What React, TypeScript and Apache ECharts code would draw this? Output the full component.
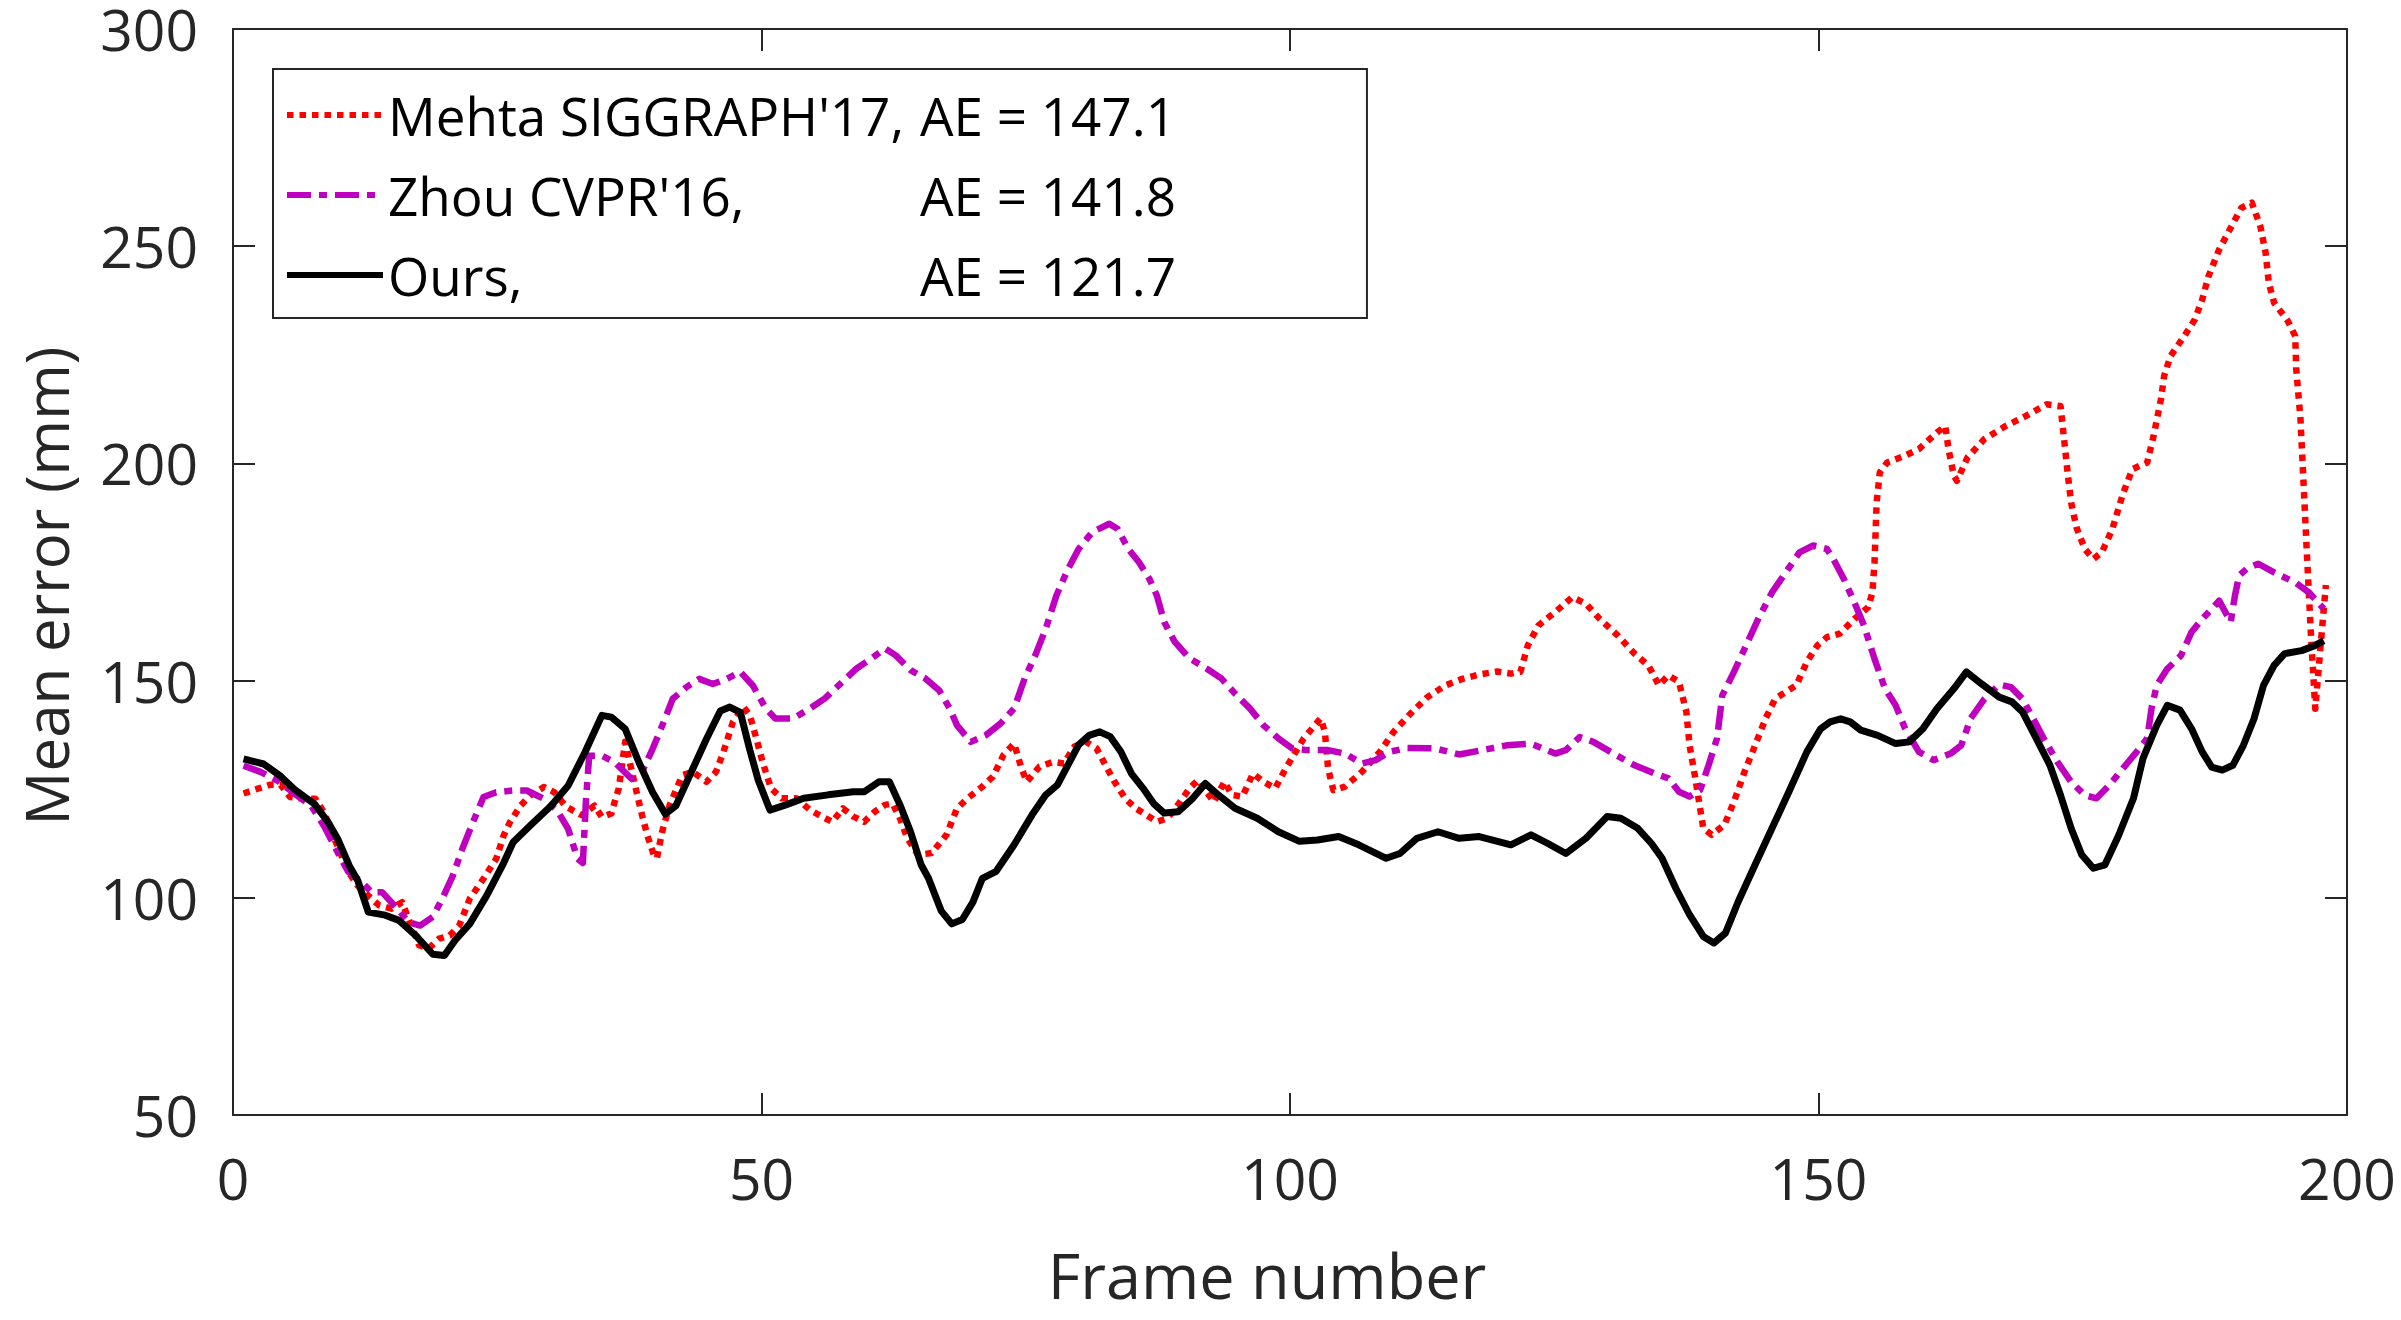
import React, { useEffect, useRef } from "react";
import * as echarts from "echarts";

const FONT = "'Open Sans', 'Noto Sans', sans-serif";
const AXIS_COLOR = "#262626";

const seriesNames = ["Mehta SIGGRAPH'17,", "Zhou CVPR'16,", "Ours,"];
const aeValues = ["147.1", "141.8", "121.7"];
const seriesColors = ["#ff0000", "#bf00bf", "#000000"];

const xTicks = { min: 0, max: 200, interval: 50 };
const yTicks = { min: 50, max: 300, interval: 50 };

const mehtaData = [
  [1,124],[2.2,125],[3.5,126],[4.5,126],[5.4,123.2],[6.7,122.8],[7.8,122.8],[8.6,119.7],[9.6,113.6],[10.9,106],
  [11.8,102.8],[12.8,100.5],[13.8,98.3],[15,97.5],[16,99],[16.6,95.2],[17.6,89.1],[18.5,88.3],[19.5,90.6],[20.5,91.3],
  [21.4,93.6],[22.4,99.8],[23.7,104.4],[24.9,109],[25.6,114.3],[26.2,117.4],[27.2,121.2],[28.1,123.5],[29.4,125.5],[30.4,124.3],
  [31.5,121],[33,119],[34.2,121.2],[34.9,118.6],[35.8,119.4],[36.1,122],[36.5,125.2],[37.1,135.9],[38.1,125.2],[38.7,119],
  [39.2,114.4],[39.8,109.9],[40.1,109.1],[40.6,115.2],[41.3,121.3],[42.5,128.2],[43.5,129],[44.8,126.7],[45.7,129],[46.4,133.6],
  [47.3,140.5],[48.3,143.9],[48.9,142],[49.6,135.9],[50.1,131.3],[50.9,125.2],[51.9,122.9],[53.3,122.9],[54.6,120.2],[55.7,118.7],
  [56.7,117.5],[57.7,120.6],[58.7,118.7],[59.7,117.5],[60.7,119.8],[61.7,121.4],[62.4,121.7],[63.1,118.3],[63.8,113.7],[64.8,109.9],
  [66.1,110.3],[67.5,114.5],[68.5,120.6],[69.5,122.9],[70.9,125.6],[71.9,127.9],[72.9,132.9],[73.9,135.5],[74.6,129.8],[75.1,126.7],
  [76.3,130.2],[77.6,131.3],[78.6,130.9],[79.6,134.8],[80.7,135.9],[81.7,134.4],[82.7,129.8],[83.4,126.7],[84.4,122.9],[85.4,120.6],
  [86.4,119.1],[87.4,117.5],[88.4,118.3],[89.4,121.4],[90.5,125.2],[91.3,127.1],[92.1,124.4],[92.8,122.1],[93.8,126.7],[94.5,123.7],
  [95.5,123.3],[96.5,128.6],[97.5,126.7],[98.6,125.2],[99.6,129.8],[101.3,136.7],[102.9,141.3],[103.3,138.2],[103.6,129.8],[104.1,124.8],
  [105.2,125.6],[106.8,129],[108.5,133.6],[109.8,138.2],[111.4,142.4],[113,146.2],[114.7,148.9],[116.3,150.4],[117.9,151.4],[119.6,152.1],
  [120.9,151.6],[121.8,152],[122.5,158.1],[123.5,162.7],[125.1,165.8],[126.7,169.2],[128,167.7],[129.3,164.2],[131,160.4],[132.6,156.2],
  [133.9,153.5],[134.9,148.9],[135.8,151.2],[136.8,149.7],[137.5,142.8],[137.8,135.1],[138.3,128.2],[138.8,120.6],[139.1,116],[139.9,114.5],
  [141.1,116.8],[142,122.1],[143,129],[144,135.1],[145,141.3],[145.9,145.8],[146.9,147.4],[147.9,148.9],[148.9,154.3],[149.9,158.1],
  [150.8,160],[152,160.8],[153.4,164.2],[154.7,166.9],[155.1,170.3],[155.3,177.2],[155.5,191],[155.8,197.9],[156.5,200.2],[158.2,201.8],
  [159.5,203.3],[161.2,207.1],[162,208.6],[162.3,203.3],[162.8,197.2],[163.1,196],[164.1,201.4],[165.7,205.6],[167.7,208.6],[169.6,210.9],
  [171.6,213.6],[172.9,213.2],[173.2,206.3],[173.6,197.2],[173.9,191],[174.4,185.3],[175.2,180.3],[176,178],[176.8,179.5],[177.8,184.9],
  [178.8,193],[179.7,198.7],[181.1,200.2],[181.7,206.3],[182.4,214.8],[182.7,220.1],[183.3,224.7],[184.6,229.3],[185.6,233.1],[186.3,237.7],
  [186.9,243.1],[187.9,249.2],[188.9,253.8],[190,258.8],[191,260],[191.8,254.6],[192.3,248.5],[192.6,241.6],[193.1,237],[194.4,232.8],
  [195.1,229.3],[195.2,221.7],[195.6,210.2],[195.9,194.9],[196.2,179.5],[196.6,160],[197,143.5],[197.5,158],[198,172],
];

const zhouData = [
  [1,130.4],[2.6,129],[4.2,127],[5.8,124],[7.4,121.2],[8.6,116.6],[9.9,110.5],[10.9,106],[12.2,103.6],[13.1,101.3],
  [14.1,101.3],[15.4,97.9],[16.6,94.4],[17.7,93.6],[18.9,95.6],[19.8,99.8],[20.8,105.1],[21.7,111.3],[22.7,117.4],[23.7,123.2],
  [24.9,124.3],[26.5,124.7],[27.8,124.7],[29.4,122.8],[30.7,120],[31.7,115.9],[32.6,109],[33.1,108],[33.4,122.8],[33.7,132.7],
  [34.9,132.7],[36.1,131.2],[37.7,127.4],[38.7,129],[39.7,134.3],[40.6,139.6],[41.6,145.8],[42.9,148.5],[44.1,150.4],[45.4,149.2],
  [46.7,150.4],[48,152],[49.2,148.8],[50.4,143.6],[51.3,141.3],[53,141.3],[54.6,143.6],[56,145.9],[57.3,148.9],[59,152.8],
  [60.4,155.1],[61.7,157.4],[62.7,155.8],[64.1,152.4],[65.5,150.5],[66.8,147.8],[67.8,143.6],[68.5,139.7],[69.8,135.9],[71.2,137.4],
  [72.6,140.1],[73.9,143.6],[74.9,150.5],[75.9,155.8],[76.9,162],[77.9,169.6],[79,175.7],[80,180.3],[81.3,184.2],[82.9,186.1],
  [83.7,184.9],[84.7,180.3],[85.7,177.3],[86.7,173.4],[87.4,169.6],[88.1,163.5],[89.1,158.9],[90.5,155.1],[92.1,152.8],[93.5,150.5],
  [94.8,147],[96.2,143.6],[97.5,139.7],[98.9,136.7],[100.2,134.4],[101.6,134],[103.6,134],[105.2,133.2],[106.8,130.9],[108.1,131.7],
  [109.4,133.6],[111.1,134.5],[113.7,134.4],[116,133],[118.2,134],[120.5,135.1],[122.8,135.5],[125.1,133.2],[126.1,134],[127.4,137],
  [128.7,135.9],[130.6,133.2],[132.6,130.5],[134.5,128.6],[135.8,127.5],[136.8,124.4],[137.8,123.3],[138.8,124.8],[139.6,130.5],[140.4,136.7],
  [140.9,146.6],[142,152],[143,157.3],[144.3,164.2],[145.6,170.3],[146.9,174.9],[148.2,179.5],[149.5,181.1],[150.8,180.3],[151.4,178],
  [152.4,173.4],[153.4,168],[154.3,162.7],[155.3,155],[156.3,148.1],[157.3,144.3],[158.2,138.9],[159.5,133.6],[160.9,131.7],[162.5,133.2],
  [163.5,135.1],[164.4,141.3],[165.7,145.8],[167.1,149.1],[168.2,148.5],[169.3,145.8],[170.3,141.3],[171.3,136.7],[172.6,131.3],[173.9,126.7],
  [175.2,123.6],[176.3,122.9],[177.5,125.9],[178.8,129.8],[180.1,133.6],[181.1,136.7],[181.5,143.5],[182,148.9],[183,152.7],[184.3,155.8],
  [185.3,161.2],[186.3,164.2],[187.2,166.5],[187.9,168.4],[188.5,165.7],[189,163.5],[189.4,169.6],[189.8,174.2],[190.5,175.7],[191.6,176.9],
  [193.1,174.9],[195.1,172.6],[196.4,170.3],[197.8,166.5],
];

const oursData = [
  [1,132],[2.9,130.8],[4.5,128],[5.8,125],[7.7,121.6],[9,117.4],[9.9,113.6],[11,107.4],[11.8,104],[12.8,96.7],
  [14.4,96],[15.7,94.8],[17.3,91.3],[18.9,87],[20,86.7],[21.1,90.5],[22.4,94],[24,100.5],[25.6,108],[26.5,112.8],
  [28.1,116.6],[30.1,121.2],[31.7,125.8],[33.3,133.5],[34.9,142],[35.8,141.6],[37.1,138.9],[38.4,131.2],[39.7,124.3],[40.9,119.3],
  [41.9,121.2],[43.5,129.7],[44.8,136.6],[46.1,143],[47,143.9],[48,142.7],[48.9,134],[49.7,127],[50.8,120.2],[52.3,121.4],
  [54,122.9],[56.3,123.7],[58.7,124.4],[59.7,124.4],[61.1,126.7],[62.1,126.7],[63.1,121.4],[64.1,115.2],[65.1,107.6],[65.8,104.5],
  [67,97],[68,94],[69,95],[70,99],[70.9,104.5],[72.2,106.1],[73.9,112.2],[75.6,119.1],[76.9,123.7],[78,126],
  [79,130.6],[80,135.2],[81,137.4],[82,138.2],[83,137.1],[84,133.6],[85,128.6],[86.1,125.2],[87.1,121.7],[88.1,119.5],
  [89.4,119.8],[90.8,122.9],[92,126.3],[93.2,123.7],[94.8,120.6],[96.9,118.3],[98.9,115.2],[100.9,113],[102.6,113.3],[104.6,114.1],
  [106.5,112.2],[109.1,109.1],[110.4,110.2],[112,113.7],[114,115.2],[116,113.7],[117.9,114.1],[120.9,112.2],[122.8,114.5],[124.4,112.5],
  [126.1,110.2],[128,113.7],[130,118.7],[131.3,118.3],[132.9,116],[134.2,112.5],[135.2,109.1],[136.5,102.2],[137.8,96.1],[139.1,91.1],
  [140.1,89.6],[141.2,91.9],[142.4,99.1],[144,107.6],[145.6,116],[147.2,124.4],[148.9,133.6],[150.2,138.9],[151.1,140.5],[152.1,141.2],
  [153,140.5],[154,138.6],[155.6,137.4],[157.3,135.5],[158.6,135.9],[159.9,139],[161.2,143.5],[162.8,148.1],[164,152],[165.4,149.3],
  [167.1,146.2],[168.3,145.1],[169.3,142.8],[170.6,136.7],[171.9,130.5],[172.9,123.6],[173.9,116],[174.9,109.9],[176,106.8],[177.1,107.6],
  [178.4,114.4],[179.8,122.9],[180.7,132.1],[182,139.7],[183,144.3],[184.2,143.2],[185.3,138.9],[186.3,133.6],[187.2,130.1],[188.2,129.4],
  [189.2,130.5],[190.2,135.1],[191.2,141.2],[192.1,148.9],[193.1,153.5],[194.1,156.2],[195.7,156.9],[197,158.1],[197.8,159.2],
];

const seriesData = [mehtaData, zhouData, oursData];
const lineTypes: any[] = [[6.5, 6], [24, 8, 8, 8], "solid"];
const lineWidths = [6.5, 6.5, 7];

function buildOption() {
  const axisLine = { show: true, onZero: false, lineStyle: { color: AXIS_COLOR, width: 2 } };
  const axisTick = { show: true, inside: true, length: 22, lineStyle: { color: AXIS_COLOR, width: 2 } };
  const labelStyle = { fontFamily: FONT, fontSize: 57, lineHeight: 44, color: AXIS_COLOR };
  return {
    animation: false,
    backgroundColor: "#ffffff",
    grid: { left: 233, right: 54, top: 29, bottom: 205, containLabel: false },
    legend: {
      show: true,
      orient: "vertical",
      left: 273,
      top: 69,
      itemWidth: 96,
      itemHeight: 20,
      itemGap: 20,
      padding: [16, 191, 13, 11],
      borderColor: AXIS_COLOR,
      borderWidth: 2,
      backgroundColor: "#ffffff",
      selectedMode: false,
      data: seriesNames,
      lineStyle: { width: 6 },
      itemStyle: { opacity: 0 },
      textStyle: {
        fontFamily: FONT,
        fontSize: 53,
        color: "#000",
        lineHeight: 60,
        rich: {
          n: { fontFamily: FONT, fontSize: 53, color: "#000", width: 532, lineHeight: 60 },
          v: { fontFamily: FONT, fontSize: 53, color: "#000", lineHeight: 60 },
        },
      },
      formatter: (name: string) => {
        const i = seriesNames.indexOf(name);
        return `{n|${name}}{v|AE = ${aeValues[i]}}`;
      },
    },
    xAxis: [
      {
        type: "value",
        position: "bottom",
        min: xTicks.min,
        max: xTicks.max,
        interval: xTicks.interval,
        name: "Frame number",
        nameLocation: "middle",
        nameGap: 128,
        nameTextStyle: { fontFamily: FONT, fontSize: 63, color: AXIS_COLOR, padding: [0, 46, 0, 0] },
        axisLine,
        axisTick,
        splitLine: { show: false },
        axisLabel: { ...labelStyle, margin: 41, showMinLabel: true, showMaxLabel: true },
      },
      {
        type: "value",
        position: "top",
        min: xTicks.min,
        max: xTicks.max,
        interval: xTicks.interval,
        axisLine,
        axisTick,
        splitLine: { show: false },
        axisLabel: { show: false },
      },
    ],
    yAxis: [
      {
        type: "value",
        position: "left",
        min: yTicks.min,
        max: yTicks.max,
        interval: yTicks.interval,
        name: "Mean error (mm)",
        nameLocation: "middle",
        nameGap: 157,
        nameTextStyle: { fontFamily: FONT, fontSize: 60, color: AXIS_COLOR, padding: [0, 28, 0, 0] },
        axisLine,
        axisTick,
        splitLine: { show: false },
        axisLabel: { ...labelStyle, margin: 35, showMinLabel: true, showMaxLabel: true },
      },
      {
        type: "value",
        position: "right",
        min: yTicks.min,
        max: yTicks.max,
        interval: yTicks.interval,
        axisLine,
        axisTick,
        splitLine: { show: false },
        axisLabel: { show: false },
      },
    ],
    series: seriesNames.map((name, i) => ({
      name,
      type: "line",
      xAxisIndex: 0,
      yAxisIndex: 0,
      data: seriesData[i],
      showSymbol: false,
      symbol: "none",
      smooth: false,
      clip: true,
      z: 2 + i,
      lineStyle: {
        color: seriesColors[i],
        width: lineWidths[i],
        type: lineTypes[i],
        cap: "butt",
        join: "round",
      },
      itemStyle: { color: seriesColors[i] },
      emphasis: { disabled: true },
    })),
  };
}

export default function App() {
  const ref = useRef<HTMLDivElement>(null);
  useEffect(() => {
    if (!ref.current) return;
    const chart = echarts.init(ref.current, undefined, { renderer: "svg" });
    chart.setOption(buildOption() as any);
    return () => chart.dispose();
  }, []);
  return (
    <div
      ref={ref}
      style={{ position: "absolute", left: 0, top: 0, width: 2401, height: 1320, background: "#fff" }}
    />
  );
}
